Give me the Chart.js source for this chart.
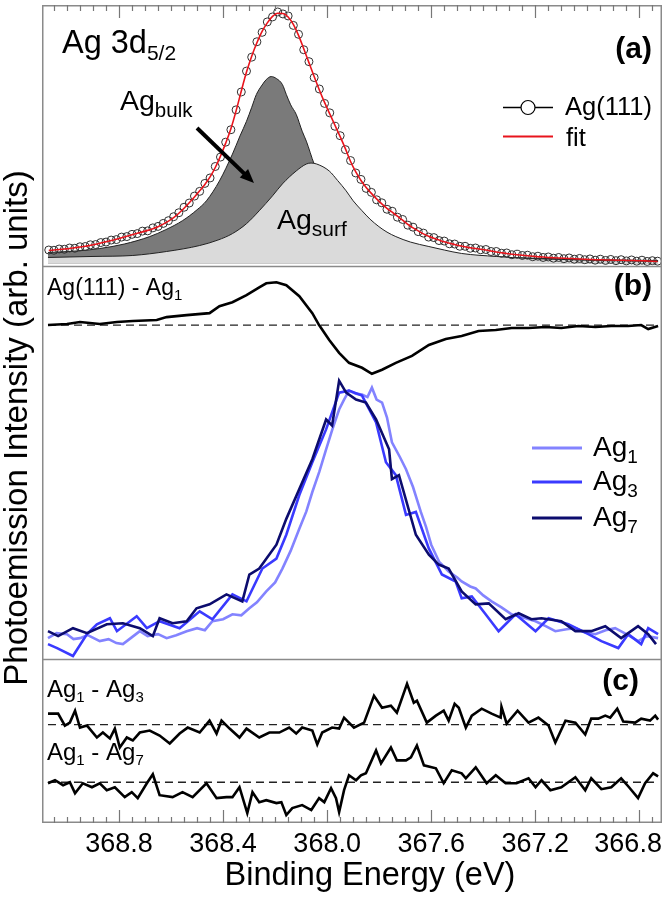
<!DOCTYPE html>
<html><head><meta charset="utf-8">
<script src="https://cdn.jsdelivr.net/npm/chart.js@4/dist/chart.umd.min.js"></script>
<style>html,body{margin:0;padding:0;background:#fff;}canvas{display:block}</style>
</head><body>
<canvas id="c" width="667" height="897"></canvas>
<script>
// ---------- DATA ----------
const xTicks = [368.8, 368.4, 368.0, 367.6, 367.2, 366.8];
const xMin = 366.713, xMax = 369.096;

// panel (a): Ag(111) measured points and fit
const energyA = [369.07,369.05,369.03,369.01,368.99,368.97,368.95,368.93,368.91,368.89,368.87,368.85,368.83,368.81,368.79,368.77,368.75,368.73,368.71,368.69,368.67,368.65,368.63,368.61,368.59,368.57,368.55,368.53,368.51,368.49,368.47,368.45,368.43,368.41,368.39,368.37,368.35,368.33,368.31,368.29,368.27,368.25,368.23,368.21,368.19,368.17,368.15,368.13,368.11,368.09,368.07,368.05,368.03,368.01,367.99,367.97,367.95,367.93,367.91,367.89,367.87,367.85,367.83,367.81,367.79,367.77,367.75,367.73,367.71,367.69,367.67,367.65,367.63,367.61,367.59,367.57,367.55,367.53,367.51,367.49,367.47,367.45,367.43,367.41,367.39,367.37,367.35,367.33,367.31,367.29,367.27,367.25,367.23,367.21,367.19,367.17,367.15,367.13,367.11,367.09,367.07,367.05,367.03,367.01,366.99,366.97,366.95,366.93,366.91,366.89,366.87,366.85,366.83,366.81,366.79,366.77,366.75,366.73];
const ag111 = [4.6,4.5,5.0,4.9,5.4,5.3,5.9,6.0,6.7,6.8,7.6,7.8,8.6,8.8,9.8,10.0,10.9,11.2,12.2,12.3,13.5,14.1,15.3,16.4,18.0,19.6,21.8,23.5,26.3,28.2,31.4,33.6,38.2,42.0,48.0,53.0,61.0,68.2,76.6,82.2,88.4,92.2,96.4,98.4,100.4,99.6,98.8,95.0,91.4,85.2,80.4,74.0,69.4,63.6,59.8,54.4,50.6,45.0,40.6,35.6,33.0,29.4,27.8,24.8,23.6,21.0,20.2,17.8,16.9,14.6,13.8,12.0,11.4,9.8,9.6,8.4,8.2,7.1,7.0,6.1,6.1,5.3,5.4,4.7,4.8,4.0,4.0,3.3,3.4,2.7,2.9,2.4,2.5,1.9,2.1,1.6,1.8,1.3,1.6,1.1,1.4,0.9,1.2,0.7,1.0,0.5,0.9,0.4,0.8,0.3,0.7,0.2,0.6,0.1,0.5,0.0,0.3,0.1];
const agFit = [4.4,4.6,4.8,5.0,5.2,5.5,5.8,6.1,6.5,6.9,7.4,7.9,8.4,8.9,9.5,10.1,10.7,11.3,11.9,12.5,13.2,14.0,15.0,16.2,17.6,19.4,21.4,23.6,25.9,28.4,31.0,34.0,37.8,42.4,47.6,53.4,60.6,68.6,76.2,82.6,88.0,92.6,96.0,98.6,99.9,99.8,98.4,95.4,91.0,85.6,80.0,74.4,69.0,64.0,59.4,54.8,50.2,45.4,40.2,36.0,32.6,29.8,27.4,25.2,23.2,21.4,19.8,18.2,16.6,14.9,13.5,12.3,11.1,10.1,9.3,8.6,7.9,7.3,6.8,6.3,5.9,5.5,5.2,4.9,4.6,4.2,3.8,3.5,3.2,2.9,2.7,2.5,2.3,2.1,1.9,1.8,1.6,1.5,1.4,1.3,1.2,1.1,1.0,0.9,0.8,0.7,0.7,0.6,0.6,0.5,0.5,0.4,0.4,0.3,0.3,0.2,0.1,0.0];
// fitted components [energy, intensity]
const bulk = [[369.073,3.6],[368.95,4.3],[368.874,5.2],[368.78,7.0],[368.682,10],[368.62,12.8],[368.556,16.4],[368.50,20.8],[368.464,24.4],[368.414,32.4],[368.364,43.2],[368.335,50.5],[368.310,56.4],[368.29,62],[368.272,67.2],[368.25,71.0],[368.234,73.2],[368.215,74.4],[368.195,73.6],[368.172,71.2],[368.157,67.2],[368.14,63.0],[368.119,59.2],[368.096,52.4],[368.080,48.4],[368.050,39.2],[368.02,32],[367.99,26],[367.95,20],[367.90,15],[367.85,11],[367.78,8],[367.70,5.6],[367.60,3.8],[367.45,2.4],[367.30,1.6],[367.10,1.0],[366.90,0.6],[366.728,0.4]];
const surf = [[369.073,1.6],[368.90,2.0],[368.747,2.4],[368.617,4.0],[368.490,6.4],[368.42,8.6],[368.364,11.2],[368.31,15.2],[368.261,20.4],[368.21,26.4],[368.172,31.2],[368.119,36.4],[368.080,39.2],[368.062,39.6],[368.04,39.2],[367.992,36.4],[367.96,32.6],[367.927,28.4],[367.90,24.4],[367.866,20.4],[367.835,17.0],[367.801,14],[367.77,11.8],[367.736,10],[367.68,7.8],[367.609,6],[367.55,4.6],[367.483,3.2],[367.35,2.0],[367.226,1.2],[367.10,0.8],[366.969,0.4],[366.85,0.2],[366.728,0]];

// panel (b): difference Ag(111) - Ag1 and cluster spectra
const diffB = [[369.073,0],[369.000,0.4],[368.950,1.2],[368.874,0.4],[368.808,1.2],[368.747,1.6],[368.655,2.0],[368.617,3.2],[368.540,4.0],[368.452,4.8],[368.414,7.6],[368.364,9.2],[368.310,12],[368.261,15.2],[368.234,16.8],[368.195,17.2],[368.157,16],[368.107,11.6],[368.057,4.8],[368.031,0],[367.992,-6],[367.954,-11.2],[367.916,-15.2],[367.866,-17.2],[367.828,-19.6],[367.789,-18],[367.736,-15.2],[367.674,-12.4],[367.609,-8],[367.544,-5.6],[367.483,-4.4],[367.418,-2.4],[367.352,-2],[367.291,-1.2],[367.226,-1.2],[367.161,-0.8],[367.100,-1.2],[367.034,-0.4],[366.969,-0.8],[366.908,-0.4],[366.843,-0.4],[366.793,0],[366.766,-1.6],[366.728,-0.4]];
const ag1 = [[369.073,0],[369.04,2.0],[369.000,1.6],[368.975,-0.4],[368.950,0],[368.92,1.2],[368.874,-1.2],[368.84,-0.4],[368.81,-2.0],[368.785,-2.4],[368.75,0.4],[368.720,2.8],[368.69,0.8],[368.65,1.6],[368.617,0],[368.58,1.2],[368.540,2.8],[368.50,4.0],[368.47,3.2],[368.441,6.8],[368.40,7.6],[368.364,9.6],[368.33,9.2],[368.299,12],[368.27,14.4],[368.234,18.8],[368.20,22.4],[368.172,28],[368.14,35.2],[368.107,44],[368.08,51],[368.057,58.8],[368.03,67],[368.004,76],[367.98,84],[367.954,92],[367.935,96],[367.916,99.6],[367.89,98.4],[367.866,98],[367.845,97],[367.828,100.8],[367.81,96],[367.789,94.8],[367.77,88.8],[367.751,78.8],[367.72,72.8],[367.697,68],[367.67,60.8],[367.64,50.8],[367.62,44.8],[367.60,37.6],[367.57,30.8],[367.533,26.8],[367.50,24.4],[367.483,22.8],[367.45,20.8],[367.429,20],[367.40,17.2],[367.368,14.8],[367.33,12.4],[367.291,9.6],[367.25,8.4],[367.199,6.8],[367.16,4.8],[367.123,2.8],[367.08,3.6],[367.046,4],[367.01,2.4],[366.969,1.6],[366.93,3.2],[366.893,4],[366.85,1.6],[366.805,-1.2],[366.77,0.8],[366.728,0]];
const ag3 = [[369.073,-2.4],[369.038,-4],[368.977,-7.2],[368.923,1.6],[368.885,5.6],[368.835,8],[368.808,2.8],[368.732,8.8],[368.693,4],[368.644,6.8],[368.567,4],[368.490,10.8],[368.441,7.6],[368.364,17.6],[368.310,14.8],[368.249,28],[368.195,32],[368.157,41.6],[368.107,57.6],[368.057,70.8],[368.004,84],[367.954,98.8],[367.916,99.6],[367.866,97.6],[367.812,86.8],[367.774,70.8],[367.736,65.6],[367.697,49.6],[367.659,50.8],[367.609,36],[367.559,25.6],[367.506,22.8],[367.483,16],[367.444,16.8],[367.391,9.6],[367.341,2.8],[367.276,9.6],[367.199,2.8],[367.149,8],[367.073,5.6],[366.996,1.6],[366.946,-1.2],[366.881,-4],[366.843,1.6],[366.793,-2.4],[366.766,4],[366.728,1.6]];
const ag7 = [[369.073,2.8],[369.034,0.8],[368.977,4],[368.923,2],[368.847,5.6],[368.785,6],[368.720,4],[368.670,0.8],[368.644,8],[368.594,6],[368.540,6.8],[368.502,12],[368.452,13.6],[368.387,17.6],[368.326,14.8],[368.299,25.6],[368.261,28],[368.195,37.6],[368.157,48],[368.107,60],[368.057,72],[368.004,88],[367.981,85.6],[367.954,103.6],[367.927,98.8],[367.889,96],[367.851,94.8],[367.812,88],[367.762,76],[367.751,64],[367.724,65.6],[367.659,41.6],[367.609,33.6],[367.571,29.6],[367.533,28],[367.483,18.8],[367.429,13.6],[367.379,14],[367.314,7.6],[367.264,10],[367.215,7.6],[367.176,8],[367.100,6.8],[367.046,2.8],[366.985,2.8],[366.931,4.8],[366.870,0],[366.805,4.8],[366.766,1.6],[366.736,-2.4]];

// panel (c): differences between clusters
const diff13 = [[369.073,4.4],[369.034,4.4],[369.008,-0.4],[368.989,0.8],[368.969,5.6],[368.950,-1.2],[368.923,-0.4],[368.885,-5.2],[368.862,-3.2],[368.835,-5.6],[368.816,-1.6],[368.797,-9.2],[368.770,-5.2],[368.747,-6.4],[368.720,-3.2],[368.682,-2.4],[368.644,-4.4],[368.605,-7.6],[368.567,-3.6],[368.536,-1.2],[368.490,-3.2],[368.452,1.6],[368.425,-3.6],[368.406,1.6],[368.375,-1.6],[368.337,-5.2],[368.310,-1.6],[368.261,-5.2],[368.222,-3.2],[368.184,-3.2],[368.146,-1.2],[368.119,-3.6],[368.096,-1.2],[368.057,-2.4],[368.038,-8],[368.019,-3.2],[367.981,-1.2],[367.954,-1.6],[367.935,2.8],[367.897,-1.2],[367.858,0.8],[367.820,11.6],[367.789,6.8],[367.755,7.6],[367.732,4.8],[367.693,16.4],[367.667,8.8],[367.655,9.6],[367.617,0.8],[367.582,3.6],[367.552,5.6],[367.533,1.6],[367.510,8.4],[367.494,6.8],[367.467,-1.2],[367.444,3.6],[367.406,6.4],[367.368,4.4],[367.333,2.8],[367.330,7.2],[367.310,0.4],[367.268,5.6],[367.226,0.8],[367.188,2.8],[367.149,-0.4],[367.123,-7.2],[367.084,1.6],[367.046,0.8],[367.008,-4],[366.985,2.4],[366.958,2.4],[366.931,3.6],[366.912,2.8],[366.885,6.4],[366.862,1.2],[366.816,0.8],[366.793,2.4],[366.759,1.6],[366.739,3.6],[366.728,2]];
const diff17 = [[369.073,-0.4],[369.046,0.8],[369.015,-1.2],[368.989,0],[368.969,-4.4],[368.939,-0.4],[368.904,-2],[368.874,-0.4],[368.847,-3.2],[368.816,-2],[368.778,-6],[368.751,-4],[368.728,-6.4],[368.693,-0.4],[368.670,3.2],[368.644,-5.2],[368.594,-6],[368.556,-4],[368.517,-6],[368.464,-0.4],[368.425,-6.4],[368.387,-6],[368.364,-6],[368.337,-2],[368.307,-12.4],[368.287,-4],[368.261,-8],[368.234,-7.2],[368.195,-8.4],[368.176,-8],[368.157,-13.2],[368.134,-10.4],[368.096,-9.2],[368.061,-11.2],[368.031,-6.4],[368.011,-8],[367.985,-2.4],[367.966,-6.4],[367.954,-12],[367.935,-3.2],[367.916,2.8],[367.889,0.8],[367.870,2.8],[367.851,3.6],[367.812,12.8],[367.793,7.6],[367.755,14],[367.732,8.8],[367.697,8.8],[367.678,10],[367.655,14.8],[367.628,6.8],[367.582,5.6],[367.552,-0.4],[367.521,4.8],[367.483,3.6],[367.467,1.6],[367.429,6],[367.387,-0.4],[367.352,2.8],[367.314,-0.4],[367.272,-0.4],[367.226,1.6],[367.199,-2],[367.176,0.8],[367.142,-3.2],[367.100,-2],[367.046,2],[367.008,-3.2],[366.985,1.6],[366.946,-2.8],[366.908,-2],[366.870,1.6],[366.843,-1.6],[366.805,-6.4],[366.778,-0.4],[366.747,3.6],[366.728,2.4]];

// vertical offsets of stacked curves (arb. units)
const offsetDiffB = 126, offsetDiff13 = 39.6, offsetDiff17 = 16.4;

// ---------- CHART ----------
const FAM = "'Liberation Sans', Arial, Helvetica, sans-serif";
const pts = (arr, off = 0) => arr.map(([e, v]) => ({x: e, y: v + off}));
const zeroLine = (off) => [{x: 369.073, y: off}, {x: 366.728, y: off}];

const datasets = [
  {label:'fit', data: energyA.map((e,i)=>({x:e,y:agFit[i]})), yAxisID:'ya', borderColor:'#e8141c', borderWidth:1.6, pointRadius:0, cubicInterpolationMode:'monotone', order:0},
  {label:'Ag(111)', data: energyA.map((e,i)=>({x:e,y:ag111[i]})), yAxisID:'ya', showLine:false, pointRadius:4, pointBorderWidth:1, pointBorderColor:'#303030', pointBackgroundColor:'rgba(0,0,0,0)', order:1},
  {label:'surf', data: pts(surf), yAxisID:'ya', borderColor:'#222', borderWidth:1, backgroundColor:'#dadada', fill:{value:-0.8}, pointRadius:0, cubicInterpolationMode:'monotone', order:2},
  {label:'bulk', data: pts(bulk), yAxisID:'ya', borderColor:'#222', borderWidth:1, backgroundColor:'#7a7a7a', fill:{value:-0.8}, pointRadius:0, cubicInterpolationMode:'monotone', order:3},

  {label:'zeroB', data: zeroLine(offsetDiffB), yAxisID:'yb', borderColor:'#222', borderWidth:1.3, borderDash:[8,5], pointRadius:0, order:10},
  {label:'Ag(111) - Ag1', data: pts(diffB, offsetDiffB), yAxisID:'yb', borderColor:'#000', borderWidth:2.6, pointRadius:0, order:4},
  {label:'Ag1', data: pts(ag1), yAxisID:'yb', borderColor:'#8383ff', borderWidth:2.6, pointRadius:0, order:7},
  {label:'Ag3', data: pts(ag3), yAxisID:'yb', borderColor:'#3a3aff', borderWidth:2.6, pointRadius:0, order:6},
  {label:'Ag7', data: pts(ag7), yAxisID:'yb', borderColor:'#0c0c6e', borderWidth:2.6, pointRadius:0, order:5},

  {label:'zero13', data: zeroLine(offsetDiff13), yAxisID:'yc', borderColor:'#222', borderWidth:1.3, borderDash:[8,5], pointRadius:0, order:10},
  {label:'zero17', data: zeroLine(offsetDiff17), yAxisID:'yc', borderColor:'#222', borderWidth:1.3, borderDash:[8,5], pointRadius:0, order:10},
  {label:'Ag1 - Ag3', data: pts(diff13, offsetDiff13), yAxisID:'yc', borderColor:'#000', borderWidth:2.6, pointRadius:0, order:4},
  {label:'Ag1 - Ag7', data: pts(diff17, offsetDiff17), yAxisID:'yc', borderColor:'#000', borderWidth:2.6, pointRadius:0, order:4}
];

const hiddenY = (weight, min, max) => ({
  type:'linear', position:'left', stack:'panels', stackWeight:weight, min, max,
  ticks:{display:false}, grid:{display:false, drawTicks:false}, border:{display:false}
});

function textParts(ctx, parts, x, y) {
  let cx = x;
  for (const [t, size, dy, bold] of parts) {
    ctx.font = (bold ? 'bold ' : '') + size + 'px ' + FAM;
    ctx.fillText(t, cx, y + dy);
    cx += ctx.measureText(t).width;
  }
  return cx;
}

const decor = {
  id: 'decor',
  afterDatasetsDraw(chart) {
    const ctx = chart.ctx, ca = chart.chartArea, sx = chart.scales.x, yb = chart.scales.yb;
    ctx.save();
    // frame and panel separators
    ctx.strokeStyle = '#8a8a8a'; ctx.lineWidth = 1.5;
    ctx.strokeRect(ca.left + 0.75, ca.top + 0.75, ca.width - 1.5, ca.height - 1.5);
    ctx.beginPath();
    ctx.moveTo(ca.left, Math.round(yb.top) + 0.5); ctx.lineTo(ca.right, Math.round(yb.top) + 0.5);
    ctx.moveTo(ca.left, Math.round(yb.bottom) + 0.5); ctx.lineTo(ca.right, Math.round(yb.bottom) + 0.5);
    ctx.stroke();
    // inward ticks top and bottom (major every 0.4 eV, minor every 0.05 eV)
    ctx.strokeStyle = '#777'; ctx.lineWidth = 1.2;
    ctx.beginPath();
    const kMin = Math.ceil(xMin / 0.05 - 1e-6), kMax = Math.floor(xMax / 0.05 + 1e-6);
    for (let k = kMin; k <= kMax; k++) {
      const v = k * 0.05;
      const major = xTicks.some(t => Math.abs(t - v) < 1e-6);
      const len = major ? 13 : 6;
      const px = Math.round(sx.getPixelForValue(v)) + 0.5;
      ctx.moveTo(px, ca.bottom); ctx.lineTo(px, ca.bottom - len);
      ctx.moveTo(px, ca.top); ctx.lineTo(px, ca.top + len);
    }
    ctx.stroke();

    ctx.fillStyle = '#000'; ctx.textAlign = 'left'; ctx.textBaseline = 'alphabetic';
    // panel (a)
    textParts(ctx, [['Ag 3d', 32.5, 0], ['5/2', 21, 7]], 62, 53);
    textParts(ctx, [['Ag', 28.5, 0], ['bulk', 20.5, 7]], 120, 110);
    textParts(ctx, [['Ag', 28.5, 0], ['surf', 21, 7]], 277, 229);
    // arrow
    ctx.strokeStyle = '#000'; ctx.lineWidth = 4; ctx.lineCap = 'butt';
    const ax0 = 197, ay0 = 128, ax1 = 254, ay1 = 183;
    const ang = Math.atan2(ay1 - ay0, ax1 - ax0);
    ctx.beginPath(); ctx.moveTo(ax0, ay0);
    ctx.lineTo(ax1 - 11 * Math.cos(ang), ay1 - 11 * Math.sin(ang)); ctx.stroke();
    ctx.beginPath();
    ctx.moveTo(ax1, ay1);
    ctx.lineTo(ax1 - 14 * Math.cos(ang) + 6 * Math.sin(ang), ay1 - 14 * Math.sin(ang) - 6 * Math.cos(ang));
    ctx.lineTo(ax1 - 14 * Math.cos(ang) - 6 * Math.sin(ang), ay1 - 14 * Math.sin(ang) + 6 * Math.cos(ang));
    ctx.closePath(); ctx.fill();
    // legend (a)
    ctx.strokeStyle = '#000'; ctx.lineWidth = 1.5;
    ctx.beginPath(); ctx.moveTo(503, 107.5); ctx.lineTo(553, 107.5); ctx.stroke();
    ctx.fillStyle = '#fff'; ctx.beginPath(); ctx.arc(528, 107.5, 7, 0, Math.PI * 2); ctx.fill();
    ctx.lineWidth = 1.2; ctx.stroke();
    ctx.strokeStyle = '#e8141c'; ctx.lineWidth = 1.8;
    ctx.beginPath(); ctx.moveTo(503, 136.5); ctx.lineTo(553, 136.5); ctx.stroke();
    ctx.fillStyle = '#000';
    textParts(ctx, [['Ag(111)', 25.5, 0]], 565, 115);
    textParts(ctx, [['fit', 25.5, 0]], 566, 146);
    ctx.textAlign = 'right';
    ctx.font = 'bold 30px ' + FAM;
    ctx.fillText('(a)', 652, 58);
    ctx.fillText('(b)', 652, 295);
    ctx.fillText('(c)', 639, 690);
    ctx.textAlign = 'left';
    // panel (b)
    textParts(ctx, [['Ag(111) - Ag', 23, 0], ['1', 15, 5]], 47, 295);
    const legB = [['1', '#8383ff', 448], ['3', '#3a3aff', 482], ['7', '#0c0c6e', 518]];
    for (const [s, col, yy] of legB) {
      ctx.strokeStyle = col; ctx.lineWidth = 3;
      ctx.beginPath(); ctx.moveTo(532, yy); ctx.lineTo(582, yy); ctx.stroke();
      textParts(ctx, [['Ag', 28, 0], [s, 19, 7]], 593, yy + 8);
    }
    // panel (c)
    textParts(ctx, [['Ag', 24, 0], ['1', 15, 5], [' - Ag', 24, 0], ['3', 15, 5]], 47, 697);
    textParts(ctx, [['Ag', 24, 0], ['1', 15, 5], [' - Ag', 24, 0], ['7', 15, 5]], 47, 760);
    // axis titles
    ctx.font = '32.5px ' + FAM; ctx.textAlign = 'center';
    ctx.fillText('Binding Energy (eV)', 370, 885);
    ctx.save(); ctx.translate(27, 428); ctx.rotate(-Math.PI / 2);
    ctx.font = '33px ' + FAM;
    ctx.fillText('Photoemission Intensity (arb. units)', 0, 0);
    ctx.restore();
    ctx.restore();
  }
};

new Chart(document.getElementById('c'), {
  type: 'line',
  data: { datasets },
  options: {
    responsive: false, animation: false, devicePixelRatio: 1,
    layout: { padding: { left: 42, right: 3, top: 0, bottom: 31.6 } },
    plugins: { legend: { display: false }, tooltip: { enabled: false } },
    scales: {
      x: {
        type: 'linear', reverse: true, min: xMin, max: xMax,
        afterBuildTicks: (s) => { s.ticks = xTicks.map(v => ({ value: v })); },
        afterFit: (s) => { s.paddingLeft = 0; s.paddingRight = 0; },
        ticks: { autoSkip: false, maxRotation: 0, padding: 5, color: '#000',
          font: { family: FAM, size: 27 },
          callback: (v, i, arr) => (i === arr.length - 1 ? v.toFixed(1) + '   ' : v.toFixed(1)) },
        grid: { display: false, drawTicks: false }, border: { display: false }
      },
      yc: hiddenY(165, 0, 66),
      yb: hiddenY(395, -8.4, 149.6),
      ya: hiddenY(263, -2, 103.2)
    }
  },
  plugins: [decor]
});
</script>
</body></html>
